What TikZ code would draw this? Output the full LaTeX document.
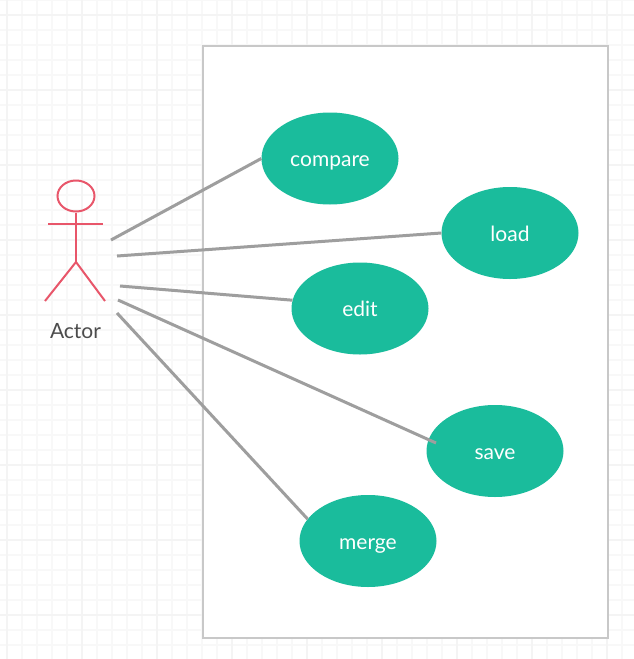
\documentclass[tikz,border=0pt]{standalone}
\usepackage{fontspec}
\setmainfont{Lato}
\usetikzlibrary{shapes.geometric}
\definecolor{gridc}{HTML}{F8F8F8}
\definecolor{gridd}{HTML}{F4F4F4}
\definecolor{framec}{HTML}{C8C8C8}
\definecolor{teal1}{HTML}{1ABC9C}
\definecolor{red1}{HTML}{E8566A}
\definecolor{linec}{HTML}{9E9E9E}
\tikzset{
  usecase/.style={ellipse,fill=teal1,draw=none,minimum width=137pt,minimum height=92pt,inner sep=0pt,text=white,font=\fontsize{21}{25}\selectfont,text height=16pt,text depth=0pt},
  conn/.style={draw=linec,line width=3pt},
  actorline/.style={draw=red1,line width=2pt},
  gridline/.style={draw=gridc,line width=1.2pt},
  gridmajor/.style={draw=gridd,line width=1.4pt},
  framebox/.style={draw=framec,fill=white,line width=2.2pt}
}
\begin{document}
\begin{tikzpicture}[x=1pt,y=-1pt]
\useasboundingbox (0,0) rectangle (634,659);
\fill[white] (0,0) rectangle (634,659);
\foreach \x in {7,22,...,634} \draw[gridline] (\x,0) -- (\x,659);
\foreach \y in {0,15,...,659} \draw[gridline] (0,\y) -- (634,\y);
\foreach \x in {7,82,...,634} \draw[gridmajor] (\x,0) -- (\x,659);
\foreach \y in {15,90,...,659} \draw[gridmajor] (0,\y) -- (634,\y);
\node[framebox,minimum width=405pt,minimum height=592pt,inner sep=0pt,outer sep=0pt,anchor=north west] (frame) at (203,46) {};
\coordinate (a1) at (111,240);
\coordinate (a2) at (117,256);
\coordinate (a3) at (120,286);
\coordinate (a4) at (118,300);
\coordinate (a5) at (117,313);
\node[usecase] (compare) at (330,158.5) {compare};
\node[usecase] (load) at (510,233) {load};
\node[usecase] (edit) at (360,308.5) {edit};
\node[usecase] (save) at (495,451) {save};
\node[usecase] (merge) at (368,541) {merge};
\coordinate (saveend) at (436,443);
\draw[conn] (a1) -- (compare.west);
\draw[conn] (a2) -- (load.west);
\draw[conn] (a3) -- (edit.173);
\draw[conn] (a4) -- (saveend);
\draw[conn] (a5) -- (merge.160);
\node[draw=red1,line width=2pt,ellipse,minimum width=37pt,minimum height=31pt,inner sep=0pt] (head) at (76,196) {};
\coordinate (hip) at (76,262);
\coordinate (armL) at (48,224);
\coordinate (armR) at (103,224);
\coordinate (legL) at (45,301);
\coordinate (legR) at (105,301);
\draw[actorline] (head.south) -- (hip);
\draw[actorline] (armL) -- (armR);
\draw[actorline] (legL) -- (hip) -- (legR);
\node[text=black!70,font=\fontsize{21}{25}\selectfont] (actor) at (75.5,331) {Actor};
\end{tikzpicture}
\end{document}
